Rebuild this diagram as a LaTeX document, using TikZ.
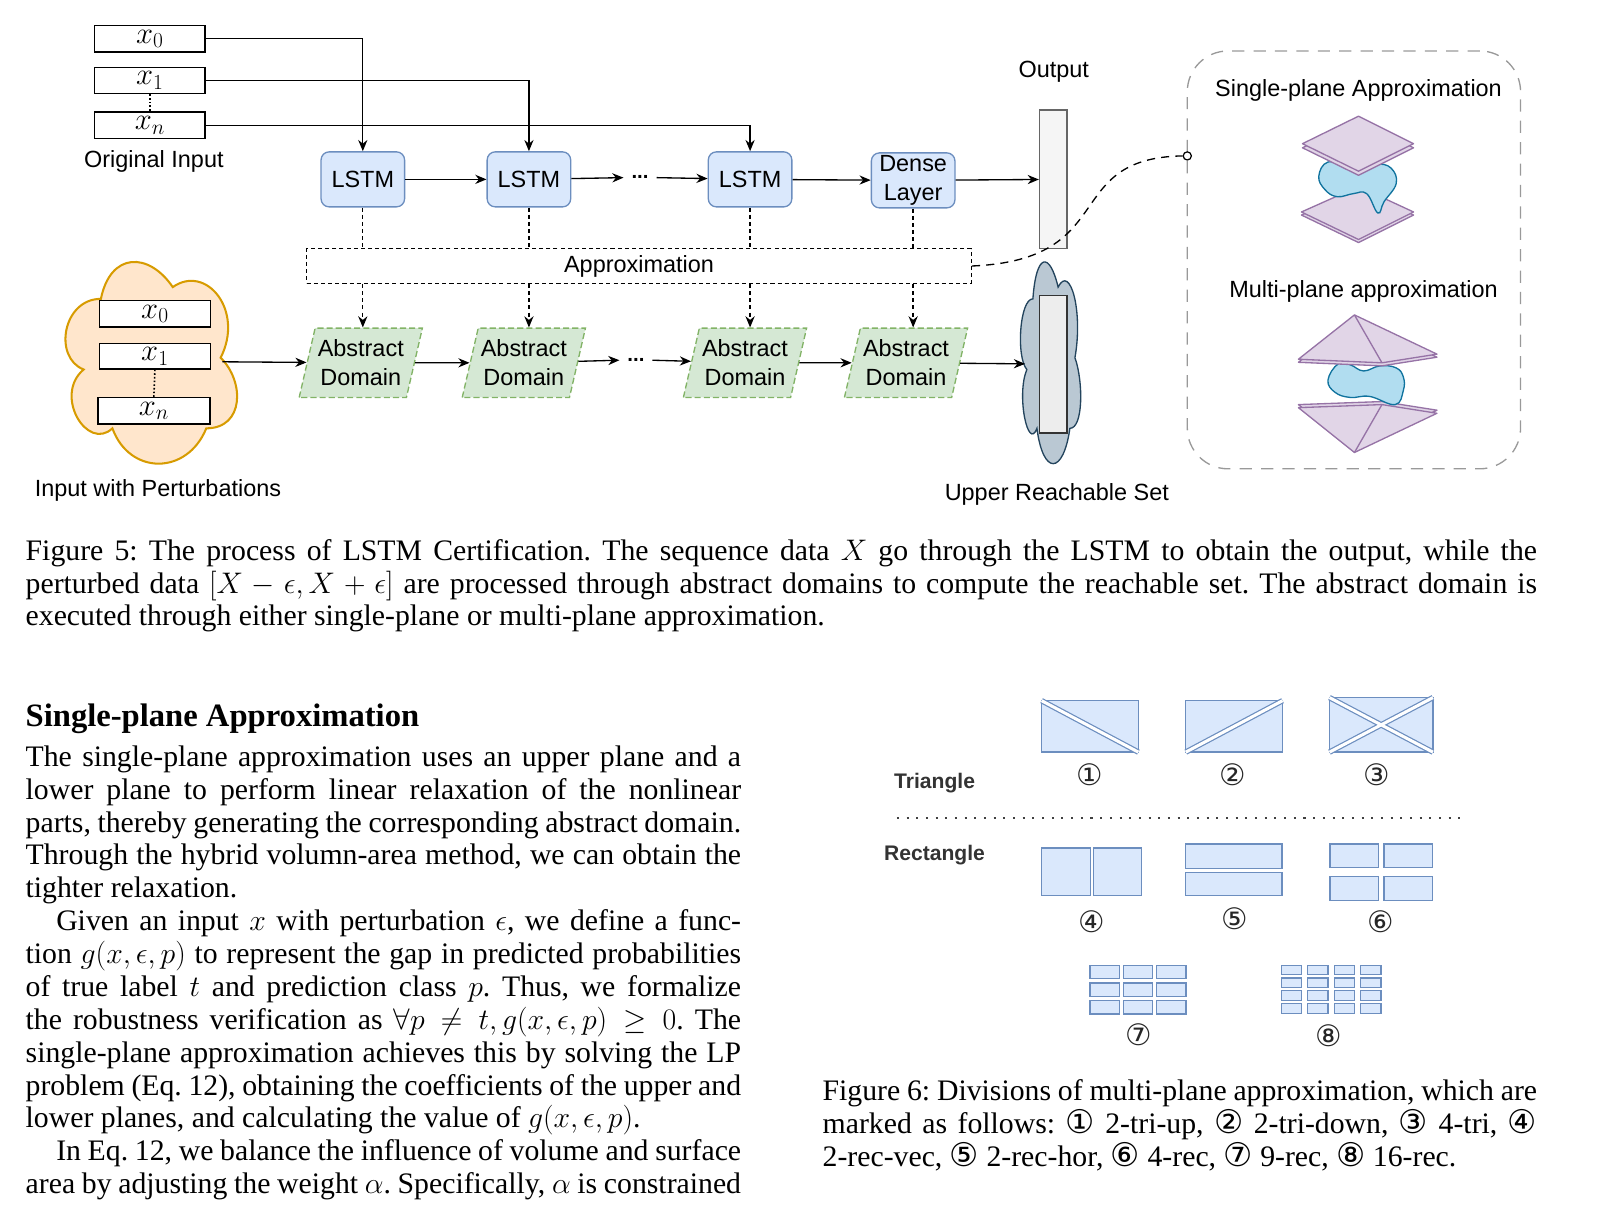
\documentclass[tikz,border=0pt]{standalone}
\usepackage{fix-cm}
\usepackage{fontspec}
\setmainfont{Liberation Serif}
\setsansfont{Liberation Sans}
\newfontfamily\circfont{DejaVu Sans}
\usepackage{amsmath}
\usepackage{xcolor}
\usetikzlibrary{shapes.geometric, arrows.meta, positioning, calc}

\definecolor{cellBlue}{HTML}{DAE8FC}
\definecolor{cellEdge}{HTML}{6C8EBF}
\definecolor{domGreen}{HTML}{D5E8D4}
\definecolor{domEdge}{HTML}{82B366}
\definecolor{pertFill}{HTML}{FFE6CC}
\definecolor{pertEdge}{HTML}{D79B00}
\definecolor{reachFill}{HTML}{BAC8D3}
\definecolor{reachEdge}{HTML}{23445D}
\definecolor{planeFill}{HTML}{E1D5E7}
\definecolor{planeEdge}{HTML}{9673A6}
\definecolor{blobFill}{HTML}{B1DDF0}
\definecolor{blobEdge}{HTML}{10739E}
\definecolor{barFill}{HTML}{F5F5F5}
\definecolor{barEdge}{HTML}{666666}

\newcommand{\bodyfont}{\fontsize{29.2}{32.25}\selectfont}
\newcommand{\lblfont}{\sffamily\fontsize{23}{28.5}\selectfont}
\newcommand{\colline}[1]{\hbox to 702pt{#1}}
\newcommand{\wideline}[1]{\hbox to 1483pt{#1}}
\newcommand{\rcolline}[1]{\hbox to 701pt{#1}}
\newcommand{\circnum}[1]{{\circfont\fontsize{32}{32}\selectfont #1}}

% cloud outline, unit box centred on the origin
\tikzset{mxcloud/.pic={
    \path[pic actions] (-0.25,-0.25) .. controls (-0.45,-0.25) and (-0.5,0) .. (-0.34,0.05)
        .. controls (-0.5,0.16) and (-0.32,0.4) .. (-0.19,0.3)
        .. controls (-0.1,0.5) and (0.2,0.5) .. (0.3,0.3)
        .. controls (0.5,0.3) and (0.5,0.1) .. (0.375,0)
        .. controls (0.5,-0.2) and (0.3,-0.4) .. (0.125,-0.3)
        .. controls (0,-0.45) and (-0.2,-0.45) .. (-0.25,-0.25) -- cycle;
}}

\begin{document}
\frenchspacing
\begin{tikzpicture}[x=1pt, y=-1pt,
    arr/.style={-{Stealth[length=11pt, width=9pt]}, line width=1.3pt},
    dashln/.style={line width=1.3pt, dash pattern=on 4pt off 3pt},
    dasharr/.style={arr, dash pattern=on 4pt off 3pt},
    inbox/.style={rectangle, draw, line width=1.3pt, fill=white, minimum width=108pt, minimum height=26pt, inner sep=0pt, font=\fontsize{30}{30}\selectfont},
    lstm/.style={rectangle, rounded corners=8pt, draw=cellEdge, fill=cellBlue, line width=1.3pt, minimum width=82pt, minimum height=54pt, inner sep=0pt, align=center, font=\lblfont},
    absdom/.style={trapezium, trapezium left angle=72, trapezium right angle=108, trapezium stretches=true, draw=domEdge, fill=domGreen, dash pattern=on 6pt off 3pt, line width=1.3pt, minimum width=121pt, minimum height=68pt, inner sep=0pt, align=center, font=\lblfont},
    anchorbox/.style={rectangle, inner sep=0pt, minimum height=200pt},
    outbar/.style={rectangle, draw=barEdge, fill=barFill, line width=1.3pt, minimum width=27pt, minimum height=136pt, inner sep=0pt},
    lbl/.style={font=\lblfont, inner sep=0pt},
    dotsep/.style={font=\sffamily\bfseries\fontsize{20}{20}\selectfont, inner sep=0pt, minimum width=32pt},
    plane/.style={draw=planeEdge, fill=planeFill, line width=1.3pt, line join=round},
    blob/.style={draw=blobEdge, fill=blobFill, line width=1.3pt},
    cell/.style={draw=cellEdge, fill=cellBlue, line width=1.3pt},
    gapline/.style={draw=cellEdge, line width=1.2pt, double=white, double distance=3pt},
    kind/.style={font=\sffamily\bfseries\fontsize{20.7}{24}\selectfont, text=black!80, inner sep=0pt},
    numtag/.style={font=\circfont\fontsize{29}{29}\selectfont, text=black!85, inner sep=0pt},
    bodyline/.style={anchor=base west, inner sep=0pt, font=\bodyfont}
]
    \useasboundingbox (0,0) rectangle (1568,1185);

    % --- Figure 5: sequence path ---
    \node[inbox] (x0) at (147,38) {$x_0$};
    \node[inbox] (x1) at (147,79) {$x_1$};
    \node[inbox] (xn) at (147,123) {$x_n$};
    \draw[line width=1.6pt, dotted] (x1.south) -- (xn.north);
    \node[lbl] (orig) at (151,158) {Original Input};

    \node[lstm] (lstm1) at (356,176) {LSTM};
    \node[lstm] (lstm2) at (519,176) {LSTM};
    \node[dotsep] (dots1) at (628,174) {...};
    \node[lstm] (lstm3) at (736,176) {LSTM};
    \node[lstm] (dense) at (896,177) {Dense\\Layer};
    \node[outbar] (out) at (1033.5,176) {};
    \node[lbl] (outlbl) at (1034,70) {Output};

    \draw[arr] (x0.east) -| (lstm1.north);
    \draw[arr] (x1.east) -| (lstm2.north);
    \draw[arr] (xn.east) -| (lstm3.north);
    \draw[arr] (lstm1) -- (lstm2);
    \draw[arr] (lstm2) -- (dots1);
    \draw[arr] (dots1) -- (lstm3);
    \draw[arr] (lstm3) -- (dense);
    \draw[arr] (dense) -- (out);

    \node[rectangle, draw, dashln, minimum width=652pt, minimum height=34pt, inner sep=0pt, font=\lblfont] (approx) at (627,261) {Approximation};

    % --- perturbed path ---
    \pic[draw=pertEdge, fill=pertFill, line width=2pt, xscale=188, yscale=231] at (146,351) {mxcloud};
    \node[anchorbox, minimum width=140pt] (pert) at (148,355) {};
    \node[inbox, minimum width=109pt] (p0) at (152,308) {$x_0$};
    \node[inbox, minimum width=109pt, minimum height=25pt] (p1) at (152,349.5) {$x_1$};
    \node[inbox, minimum width=110pt] (pn) at (151,403) {$x_n$};
    \draw[line width=1.6pt, dotted] (p1.south) -- (pn.north);
    \node[lbl] (pertlbl) at (155,481) {Input with Perturbations};

    \node[absdom] (ad1) at (354,356) {Abstract\\Domain};
    \node[absdom] (ad2) at (514,356) {Abstract\\Domain};
    \node[dotsep] (dots2) at (624,353) {...};
    \node[absdom] (ad3) at (731,356) {Abstract\\Domain};
    \node[absdom] (ad4) at (889,356) {Abstract\\Domain};
    \pic[draw=reachEdge, fill=reachFill, line width=1.3pt, xscale=66, yscale=231] at (1030,351) {mxcloud};
    \node[anchorbox, minimum width=48pt] (reach) at (1030,357) {};
    \node[outbar, draw=black!80, fill=black!7, minimum height=135pt] (rbar) at (1033.5,357.5) {};
    \node[lbl] (reachlbl) at (1037,485) {Upper Reachable Set};

    \draw[arr] (pert.east) -- (ad1);
    \draw[arr] (ad1) -- (ad2);
    \draw[arr] (ad2) -- (dots2);
    \draw[arr] (dots2) -- (ad3);
    \draw[arr] (ad3) -- (ad4);
    \draw[arr] (ad4) -- (reach.west);

    \foreach \n/\d in {lstm1/ad1, lstm2/ad2, lstm3/ad3, dense/ad4} {
        \draw[dashln] (\n.south) -- (\n.south |- approx.north);
        \draw[dasharr] (\n.south |- approx.south) -- (\n.south |- \d.north);
    }

    % --- approximation panel ---
    \node[rectangle, rounded corners=40pt, draw=black!40, line width=1.3pt, dash pattern=on 12pt off 9pt, minimum width=327pt, minimum height=410pt] (rbox) at (1328.5,255) {};
    \node[circle, draw, line width=1.2pt, fill=white, minimum size=8pt, inner sep=0pt] (plug) at (1165,153) {};
    \draw[line width=1.3pt, dash pattern=on 8pt off 6pt] (approx.east) .. controls (1100,255) and (1040,155) .. (plug.west);
    \node[lbl] (single) at (1333,89) {Single-plane Approximation};
    \node[lbl] (multi) at (1338,286) {Multi-plane approximation};

    \draw[plane] (1277,211) -- (1333,186) -- (1387,211) -- (1333,238) -- cycle;
    \draw[plane] (1277,208) -- (1333,183) -- (1387,208) -- (1333,235) -- cycle;
    \draw[blob] plot[smooth cycle, tension=0.7] coordinates {(1303,159) (1294,173) (1300,186) (1312,193) (1328,190) (1341,190) (1352,209) (1358,198) (1370,180) (1365,165) (1351,161) (1338,166) (1325,163)};
    \draw[plane] (1278,145) -- (1333,118) -- (1387,145) -- (1333,172) -- cycle;
    \draw[plane] (1278,141) -- (1333,114) -- (1387,141) -- (1333,168) -- cycle;

    \draw[plane] (1274,397) -- (1356,394) -- (1410,402.5) -- (1329,441) -- cycle;
    \draw[plane] (1274,400) -- (1356,397) -- (1410,405.5) -- (1329,444) -- cycle;
    \draw[planeEdge, line width=1.3pt] (1356,397) -- (1329,444);
    \draw[blob] plot[smooth cycle, tension=0.7] coordinates {(1313,357) (1303,373) (1310,385) (1325,390) (1344,389) (1369,397) (1377,383) (1377,370) (1370,361) (1354,359) (1338,364) (1325,358)};
    \draw[plane] (1329,312) -- (1274,355.5) -- (1356,359) -- (1410,350.5) -- cycle;
    \draw[plane] (1329,309) -- (1274,352.5) -- (1356,356) -- (1410,347.5) -- cycle;
    \draw[planeEdge, line width=1.3pt] (1329,309) -- (1356,356);

    % --- Figure 5 caption and left column ---
    \node[bodyline] (cap5a) at (25,550) {\wideline{Figure 5: The process of LSTM Certification. The sequence data $X$ go through the LSTM to obtain the output, while the}};
    \node[bodyline] (cap5b) at (25,582) {\wideline{perturbed data $[X-\epsilon, X+\epsilon]$ are processed through abstract domains to compute the reachable set. The abstract domain is}};
    \node[bodyline] (cap5c) at (25,614) {\wideline{executed through either single-plane or multi-plane approximation.\hfil}};

    \node[bodyline, font=\bfseries\fontsize{32}{36}\selectfont] (head) at (25,713) {Single-plane Approximation};

    \node[bodyline] (pa1) at (25,752) {\colline{The single-plane approximation uses an upper plane and a}};
    \node[bodyline] (pa2) at (25,784.25) {\colline{lower plane to perform linear relaxation of the nonlinear}};
    \node[bodyline] (pa3) at (25,816.5) {\colline{parts, thereby generating the corresponding abstract domain.}};
    \node[bodyline] (pa4) at (25,848.75) {\colline{Through the hybrid volumn-area method, we can obtain the}};
    \node[bodyline] (pa5) at (25,881) {\colline{tighter relaxation.\hfil}};
    \node[bodyline] (pb1) at (25,913.25) {\colline{\hskip30pt Given an input $x$ with perturbation $\epsilon$, we define a func-}};
    \node[bodyline] (pb2) at (25,945.5) {\colline{tion $g(x,\epsilon,p)$ to represent the gap in predicted probabilities}};
    \node[bodyline] (pb3) at (25,977.75) {\colline{of true label $t$ and prediction class $p$. Thus, we formalize}};
    \node[bodyline] (pb4) at (25,1010) {\colline{the robustness verification as $\forall p \neq t, g(x,\epsilon,p) \geq 0$. The}};
    \node[bodyline] (pb5) at (25,1042.25) {\colline{single-plane approximation achieves this by solving the LP}};
    \node[bodyline] (pb6) at (25,1074.5) {\colline{problem (Eq. 12), obtaining the coefficients of the upper and}};
    \node[bodyline] (pb7) at (25,1106.75) {\colline{lower planes, and calculating the value of $g(x,\epsilon,p)$.\hfil}};
    \node[bodyline] (pc1) at (25,1139) {\colline{\hskip30pt In Eq. 12, we balance the influence of volume and surface}};
    \node[bodyline] (pc2) at (25,1171.25) {\colline{area by adjusting the weight $\alpha$. Specifically, $\alpha$ is constrained}};

    % --- Figure 6: divisions ---
    \node[kind] (tri) at (917,768) {Triangle};
    \node[kind] (rect) at (917,839) {Rectangle};
    \draw[black!75, line width=2pt, dash pattern=on 2pt off 7.5pt] (880,803) -- (1440,803);

    \draw[cell] (1022,687.5) rectangle (1117,738);
    \draw[gapline] (1022,687.5) -- (1117,738);
    \draw[cell] (1163.5,687.5) rectangle (1258.5,738);
    \draw[gapline] (1163.5,738) -- (1258.5,687.5);
    \draw[cell] (1304.5,684.5) rectangle (1406,738);
    \draw[gapline] (1304.5,684.5) -- (1406,738) (1304.5,738) -- (1406,684.5);

    \draw[cell] (1022,832) rectangle (1070,879);
    \draw[cell] (1073,832) rectangle (1120,879);
    \draw[cell] (1163,828) rectangle (1258,852);
    \draw[cell] (1163,856) rectangle (1258,879);
    \foreach \cx in {1305,1358} \foreach \cy in {828,860}
        \draw[cell] (\cx,\cy) rectangle +(47.5,23.5);
    \foreach \i in {0,1,2} \foreach \j in {0,1,2}
        \draw[cell, line width=1.2pt] ({1069.5+32.7*\i},{947+17.5*\j}) rectangle +(28.8,13);
    \foreach \i in {0,...,3} \foreach \j in {0,...,3}
        \draw[cell, line width=1.1pt] ({1257+26*\i},{947+12.6*\j}) rectangle +(20,9.5);

    \node[numtag] (n1) at (1069,760) {①};
    \node[numtag] (n2) at (1210,760) {②};
    \node[numtag] (n3) at (1351,760) {③};
    \node[numtag] (n4) at (1071,904) {④};
    \node[numtag] (n5) at (1212,901) {⑤};
    \node[numtag] (n6) at (1355,904) {⑥};
    \node[numtag] (n7) at (1117,1015) {⑦};
    \node[numtag] (n8) at (1304,1016) {⑧};

    \node[bodyline] (cap6a) at (807,1080) {\rcolline{Figure 6: Divisions of multi-plane approximation, which are}};
    \node[bodyline] (cap6b) at (807,1112) {\rcolline{marked as follows: \circnum{①} 2-tri-up, \circnum{②} 2-tri-down, \circnum{③} 4-tri, \circnum{④}}};
    \node[bodyline] (cap6c) at (807,1145) {\rcolline{2-rec-vec, \circnum{⑤} 2-rec-hor, \circnum{⑥} 4-rec, \circnum{⑦} 9-rec, \circnum{⑧} 16-rec.\hfil}};
\end{tikzpicture}
\end{document}
